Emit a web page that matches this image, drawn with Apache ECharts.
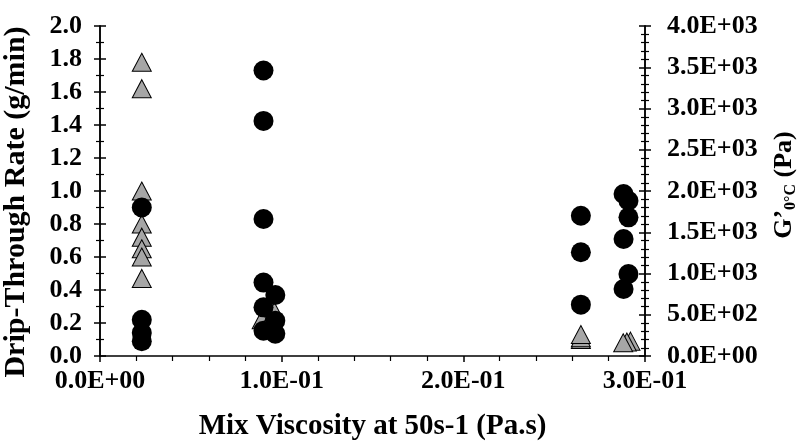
<!DOCTYPE html>
<html>
<head>
<meta charset="utf-8">
<script src="https://cdn.jsdelivr.net/npm/echarts@6/dist/echarts.min.js"></script>
<style>
  html, body { margin: 0; padding: 0; background: #fff; }
  #chart { width: 800px; height: 442px; }
</style>
</head>
<body>
<div id="chart"></div>
<script>
// Drip-through rate (left axis, grey triangles)
const dripX    = [0.023, 0.023, 0.023, 0.023, 0.023, 0.023, 0.023, 0.023,
                  0.089, 0.096,
                  0.2647, 0.2647, 0.2647,
                  0.292, 0.290, 0.288];
const dripRate = [1.78, 1.62, 1.00, 0.80, 0.72, 0.65, 0.60, 0.47,
                  0.22, 0.27,
                  0.10, 0.11, 0.13,
                  0.09, 0.085, 0.08];

// G' at 0 °C (right axis, black circles)
const gX     = [0.023, 0.023, 0.023, 0.023,
                0.090, 0.090, 0.090, 0.090, 0.090, 0.090,
                0.0965, 0.0965, 0.0965,
                0.2647, 0.2647, 0.2647,
                0.2882, 0.2882, 0.2882,
                0.2909, 0.2909, 0.2909];
const gValue = [1800, 440, 280, 180,
                3460, 2850, 1660, 890, 590, 307,
                740, 428, 270,
                1700, 1257, 622,
                1963, 1418, 812,
                1882, 1681, 994];

const xTicks = { min: 0, max: 0.3, interval: 0.1 };
const leftTicks = { min: 0, max: 2.0, interval: 0.2 };
const rightTicks = { min: 0, max: 4000, interval: 500 };

const FONT = '"Liberation Serif", "Times New Roman", serif';

function sci(v) {
  if (Math.abs(v) < 1e-12) return '0.0E+00';
  let e = Math.floor(Math.log10(Math.abs(v)) + 1e-9);
  let m = v / Math.pow(10, e);
  if (Math.abs(m) >= 9.95) { m /= 10; e += 1; }
  return m.toFixed(1) + 'E' + (e < 0 ? '-' : '+') + String(Math.abs(e)).padStart(2, '0');
}

const labelStyle = { fontFamily: FONT, fontWeight: 'bold', fontSize: 26, color: '#000' };
const lineStyle = { color: '#000', width: 1.5 };

function yAxisPair(pos, t, minorSplit, extra) {
  const main = Object.assign({
    type: 'value', position: pos, min: t.min, max: t.max, interval: t.interval,
    axisLine: { show: true, lineStyle },
    axisTick: { show: true, inside: false, length: 6, lineStyle: { color: '#000', width: 1.5 } },
    minorTick: { show: true, splitNumber: minorSplit, length: 4, lineStyle: { color: '#000', width: 1.2 } },
    splitLine: { show: false }
  }, extra);
  // Mirror axis carrying the inward half of each tick, so ticks cross the line
  const mirror = {
    type: 'value', position: pos, min: t.min, max: t.max, interval: t.interval,
    axisLine: { show: true, lineStyle },
    axisTick: { show: true, inside: true, length: 6, lineStyle: { color: '#000', width: 1.5 } },
    minorTick: { show: true, splitNumber: minorSplit, length: 4, lineStyle: { color: '#000', width: 1.2 } },
    splitLine: { show: false },
    axisLabel: { show: false }
  };
  return [main, mirror];
}

const [leftMain, leftMirror] = yAxisPair('left', leftTicks, 2, {
  name: 'Drip-Through Rate (g/min)',
  nameLocation: 'middle', nameRotate: 90, nameGap: 69,
  nameTextStyle: { fontFamily: FONT, fontWeight: 'bold', fontSize: 30, color: '#000', padding: [0, 22, 0, 0] },
  axisLabel: Object.assign({ formatter: v => v.toFixed(1), margin: 18 }, labelStyle)
});
const [rightMain, rightMirror] = yAxisPair('right', rightTicks, 5, {
  name: 'G’{sub|0°C} (Pa)',
  nameLocation: 'middle', nameRotate: 90, nameGap: 125,
  nameTextStyle: {
    fontFamily: FONT, fontWeight: 'bold', fontSize: 26, color: '#000',
    padding: [0, 0, 0, 12],
    rich: {
      sub: { fontFamily: FONT, fontWeight: 'bold', fontSize: 16, color: '#000', padding: [13, 0, 0, 0] }
    }
  },
  axisLabel: Object.assign({ formatter: sci, margin: 22 }, labelStyle)
});

const option = {
  animation: false,
  backgroundColor: '#fff',
  grid: { left: 100, right: 155, top: 26, bottom: 86, containLabel: false, outerBoundsMode: 'none' },
  xAxis: {
    type: 'value', min: xTicks.min, max: xTicks.max, interval: xTicks.interval,
    name: 'Mix Viscosity at 50s-1 (Pa.s)',
    nameLocation: 'middle', nameGap: 56,
    nameTextStyle: { fontFamily: FONT, fontWeight: 'bold', fontSize: 29, color: '#000' },
    axisLine: { show: true, onZero: false, lineStyle },
    axisTick: { show: true, inside: false, length: 6, lineStyle: { color: '#000', width: 1.5 } },
    minorTick: { show: true, splitNumber: 5, length: 5, lineStyle: { color: '#000', width: 1.2 } },
    splitLine: { show: false },
    axisLabel: Object.assign({ formatter: sci, margin: 12 }, labelStyle)
  },
  yAxis: [leftMain, rightMain, leftMirror, rightMirror],
  series: [
    {
      name: 'Drip-Through Rate',
      type: 'scatter', yAxisIndex: 0,
      symbol: 'triangle', symbolSize: [19, 18],
      itemStyle: { color: '#a6a6a6', borderColor: '#000', borderWidth: 1, opacity: 1 },
      data: dripX.map((x, i) => [x, dripRate[i]]),
      z: 2
    },
    {
      name: 'G’0°C',
      type: 'scatter', yAxisIndex: 1,
      symbol: 'circle', symbolSize: 20,
      itemStyle: { color: '#000', opacity: 1 },
      data: gX.map((x, i) => [x, gValue[i]]),
      z: 3
    }
  ]
};

echarts.init(document.getElementById('chart'), null, { renderer: 'canvas' }).setOption(option);
</script>
</body>
</html>
